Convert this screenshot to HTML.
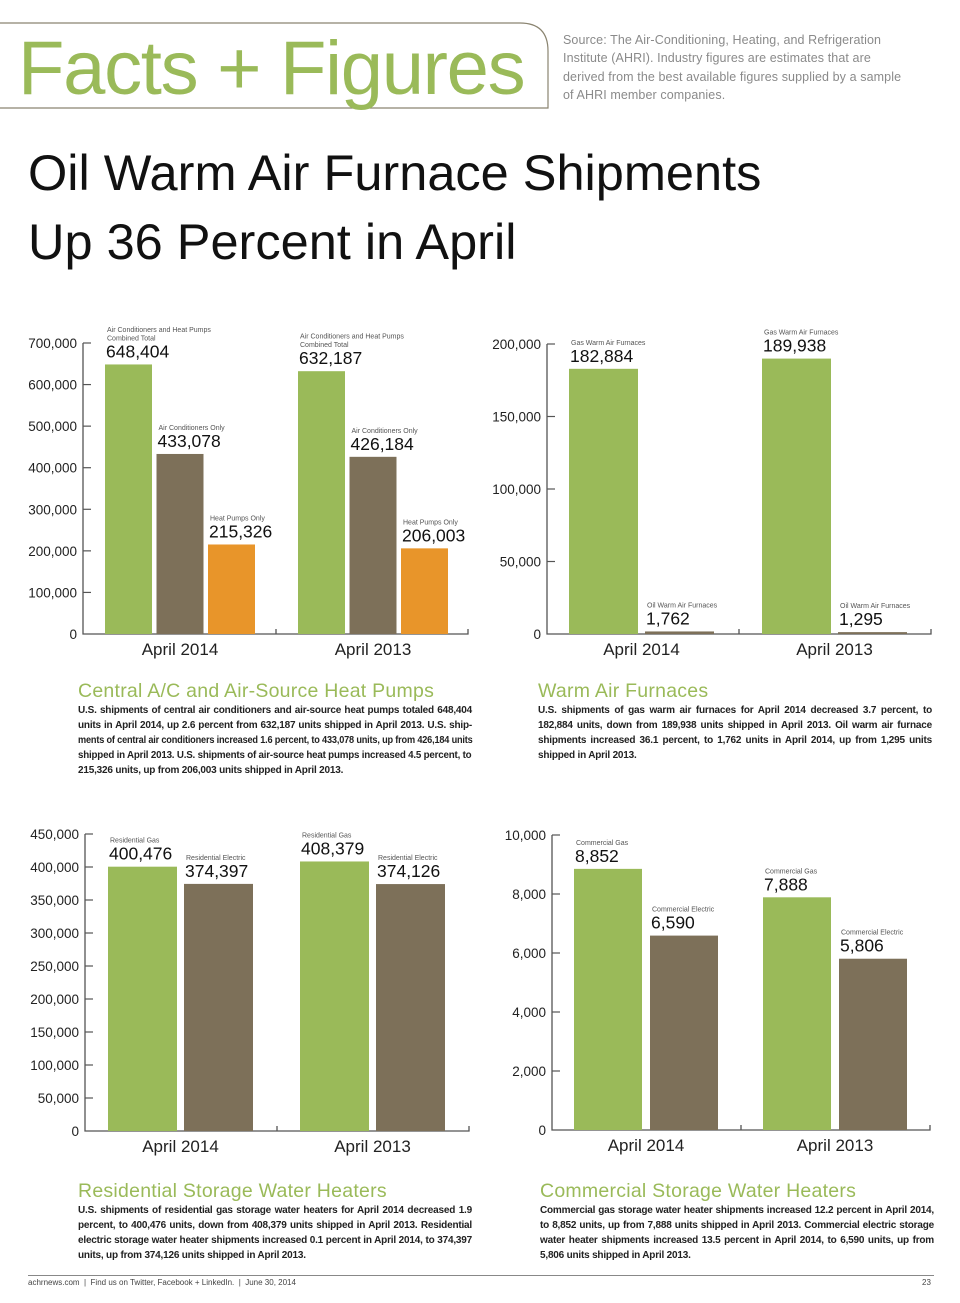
<!DOCTYPE html>
<html><head><meta charset="utf-8">
<style>
body{margin:0;background:#fff;}
#page{position:relative;width:960px;height:1303px;overflow:hidden;background:#fff;font-family:"Liberation Sans",sans-serif;}
.abs{position:absolute;}
.h2{position:absolute;color:#9aba59;font-size:19.5px;letter-spacing:0.25px;}
.p{position:absolute;font-size:10px;line-height:15px;color:#222;font-weight:bold;letter-spacing:-0.2px;white-space:nowrap;}
.p .l{text-align:justify;text-align-last:justify;}
.p .e{text-align:left;}
.sq{display:inline-block;transform-origin:left center;}
svg text{font-family:"Liberation Sans",sans-serif;}
</style></head><body>
<div id="page">
<svg class="abs" style="left:0;top:0" width="560" height="120">
<path d="M0 23 H520 Q548 23 548 51 V108 H0" fill="none" stroke="#8a8470" stroke-width="1.2"/>
</svg>
<div class="abs" style="left:18px;top:24px;font-size:76px;color:#9aba59;letter-spacing:-1.3px;line-height:90px;">Facts + Figures</div>
<div class="abs" style="left:563px;top:31px;font-size:12.5px;line-height:18.3px;color:#8a8a8a;white-space:nowrap;letter-spacing:0.1px;">Source: The Air-Conditioning, Heating, and Refrigeration<br>Institute (AHRI). Industry figures are estimates that are<br>derived from the best available figures supplied by a sample<br>of AHRI member companies.</div>
<div class="abs" style="left:28px;top:138px;font-size:50.5px;line-height:69px;color:#111;letter-spacing:0px;">Oil Warm Air Furnace Shipments<br>Up 36 Percent in April</div>

<svg id="chart" class="abs" style="left:0;top:0" width="960" height="1303"></svg>

<div class="h2" style="left:78px;top:680px;">Central A/C and Air-Source Heat Pumps</div>
<div class="p" style="left:78px;top:703px;width:394px;"><div class="l">U.S. shipments of central air conditioners and air-source heat pumps totaled 648,404</div><div class="l">units in April 2014, up 2.6 percent from 632,187 units shipped in April 2013. U.S. ship-</div><div><span class="sq" style="transform:scaleX(0.918)">ments of central air conditioners increased 1.6 percent, to 433,078 units, up from 426,184 units</span></div><div><span class="sq" style="transform:scaleX(0.977)">shipped in April 2013. U.S. shipments of air-source heat pumps increased 4.5 percent, to</span></div><div class="e">215,326 units, up from 206,003 units shipped in April 2013.</div></div>
<div class="h2" style="left:538px;top:680px;">Warm Air Furnaces</div>
<div class="p" style="left:538px;top:703px;width:394px;"><div class="l">U.S. shipments of gas warm air furnaces for April 2014 decreased 3.7 percent, to</div><div class="l">182,884 units, down from 189,938 units shipped in April 2013. Oil warm air furnace</div><div class="l">shipments increased 36.1 percent, to 1,762 units in April 2014, up from 1,295 units</div><div class="e">shipped in April 2013.</div></div>
<div class="h2" style="left:78px;top:1180px;">Residential Storage Water Heaters</div>
<div class="p" style="left:78px;top:1203px;width:394px;"><div class="l">U.S. shipments of residential gas storage water heaters for April 2014 decreased 1.9</div><div class="l">percent, to 400,476 units, down from 408,379 units shipped in April 2013. Residential</div><div class="l">electric storage water heater shipments increased 0.1 percent in April 2014, to 374,397</div><div class="e">units, up from 374,126 units shipped in April 2013.</div></div>
<div class="h2" style="left:540px;top:1180px;">Commercial Storage Water Heaters</div>
<div class="p" style="left:540px;top:1203px;width:394px;"><div class="l">Commercial gas storage water heater shipments increased 12.2 percent in April 2014,</div><div class="l">to 8,852 units, up from 7,888 units shipped in April 2013. Commercial electric storage</div><div class="l">water heater shipments increased 13.5 percent in April 2014, to 6,590 units, up from</div><div class="e">5,806 units shipped in April 2013.</div></div>

<div class="abs" style="left:28px;top:1275px;width:906px;height:1px;background:#888;"></div>
<div class="abs" style="left:28px;top:1278px;font-size:8px;color:#444;">achrnews.com &nbsp;|&nbsp; Find us on Twitter, Facebook + LinkedIn. &nbsp;|&nbsp; June 30, 2014</div>
<div class="abs" style="left:922px;top:1278px;font-size:8px;color:#444;">23</div>
</div>
<script>
const categories = ["April 2014", "April 2013"];
const c1Series = ["Air Conditioners and Heat Pumps|Combined Total", "Air Conditioners Only", "Heat Pumps Only"];
const c1Values = [[648404, 433078, 215326], [632187, 426184, 206003]];
const c1Ticks = [0, 100000, 200000, 300000, 400000, 500000, 600000, 700000];
const c2Series = ["Gas Warm Air Furnaces", "Oil Warm Air Furnaces"];
const c2Values = [[182884, 1762], [189938, 1295]];
const c2Ticks = [0, 50000, 100000, 150000, 200000];
const c3Series = ["Residential Gas", "Residential Electric"];
const c3Values = [[400476, 374397], [408379, 374126]];
const c3Ticks = [0, 50000, 100000, 150000, 200000, 250000, 300000, 350000, 400000, 450000];
const c4Series = ["Commercial Gas", "Commercial Electric"];
const c4Values = [[8852, 6590], [7888, 5806]];
const c4Ticks = [0, 2000, 4000, 6000, 8000, 10000];

const colors = ["#9aba59", "#7d7059", "#e8952a"];
const svg = document.getElementById('chart');
const NS = "http://www.w3.org/2000/svg";
function mk(tag, attrs, parent){const e=document.createElementNS(NS,tag);for(const k in attrs)e.setAttribute(k,attrs[k]);(parent||svg).appendChild(e);return e;}
const fmt = v => v.toLocaleString('en-US');

function drawChart(id, series, values, ticks, cfg){
  const g = mk('g', {});
  
  
  const maxV = ticks[ticks.length-1];
  const y = v => cfg.base - (cfg.base - cfg.top) * v / maxV;
  const ax = mk('path', {d:`M${cfg.ax} ${cfg.top} V${cfg.base} H${cfg.end} V${cfg.base-5} M${cfg.mid} ${cfg.base} V${cfg.base-5}`, fill:'none', stroke:'#555', 'stroke-width':1.3}, g);
  
  
  ticks.forEach(t => {
    const ty = y(t);
    if (t > 0) mk('line', {x1:cfg.ax, x2:cfg.ax+8, y1:ty, y2:ty, stroke:'#555', 'stroke-width':1.2}, g);
    const tl = mk('text', {x:cfg.ax-6, y:ty+5, 'text-anchor':'end', 'font-size':13.5, fill:'#222'}, g);
    tl.textContent = fmt(t);
    
    
  });
  categories.forEach((c, gi) => {
    const gx = cfg.groups[gi];
    const n = series.length;
    values[gi].forEach((v, si) => {
      const bx = gx + si * (cfg.w + cfg.gap);
      const by = y(v);
      const r = mk('rect', {x:bx, y:by, width:cfg.w, height:Math.max(cfg.base - by, 1.5), fill:colors[si]}, g);
      
      
      const vy = by - 7;
      const vt = mk('text', {x:bx+1, y:vy, 'font-size':17.5, fill:'#111'}, g);
      vt.textContent = fmt(v);
      
      
      const lines = series[si].split('|');
      lines.forEach((ln, li) => {
        const lt = mk('text', {x:bx+2, y:vy - 17 - (lines.length-1-li)*8.5, 'font-size':7, fill:'#555'}, g);
        lt.textContent = ln;
        
        
      });
    });
    const groupW = n * cfg.w + (n-1) * cfg.gap;
    const ct = mk('text', {x:gx + groupW/2, y:cfg.base+21, 'text-anchor':'middle', 'font-size':17, fill:'#222'}, g);
    ct.textContent = c;
    
    
  });
}
drawChart('chart-central-ac', c1Series, c1Values, c1Ticks, {ax:83, top:343, base:634, end:468, mid:276, groups:[105,298], w:47, gap:4.5});
drawChart('chart-warm-air', c2Series, c2Values, c2Ticks, {ax:547, top:344, base:634, end:931, mid:739, groups:[569,762], w:69, gap:7});
drawChart('chart-residential', c3Series, c3Values, c3Ticks, {ax:85, top:834, base:1131, end:469, mid:277, groups:[108,300], w:69, gap:7});
drawChart('chart-commercial', c4Series, c4Values, c4Ticks, {ax:552, top:835, base:1130, end:930, mid:741, groups:[574,763], w:68, gap:8});
</script>
</body></html>
